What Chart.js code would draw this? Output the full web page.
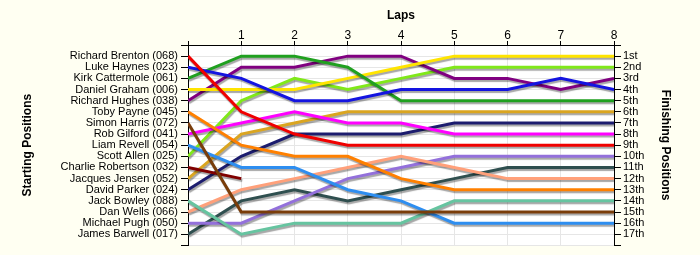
<!DOCTYPE html>
<html><head><meta charset="utf-8">
<script src="https://cdn.jsdelivr.net/npm/chart.js@4"></script>
<style>html,body{margin:0;padding:0;background:#fffff2;}canvas{display:block;}</style>
</head><body>
<canvas id="c" width="700" height="255"></canvas>
<script>
// ---- data ----
const laps = [0, 1, 2, 3, 4, 5, 6, 7, 8];
const lapTickLabels = ['', '1', '2', '3', '4', '5', '6', '7', '8'];
const drivers = [
  'Richard Brenton (068)', 'Luke Haynes (023)', 'Kirk Cattermole (061)', 'Daniel Graham (006)',
  'Richard Hughes (038)', 'Toby Payne (045)', 'Simon Harris (072)', 'Rob Gilford (041)',
  'Liam Revell (054)', 'Scott Allen (025)', 'Charlie Robertson (032)', 'Jacques Jensen (052)',
  'David Parker (024)', 'Jack Bowley (088)', 'Dan Wells (066)', 'Michael Pugh (050)', 'James Barwell (017)'
];
const finishLabels = ['1st','2nd','3rd','4th','5th','6th','7th','8th','9th','10th','11th','12th','13th','14th','15th','16th','17th'];

const brenton    = [1, 6, 8, 9, 9, 9, 9, 9, 9];
const haynes     = [2, 3, 5, 5, 4, 4, 4, 3, 4];
const cattermole = [3, 1, 1, 2, 5, 5, 5, 5, 5];
const graham     = [4, 4, 4, 3, 2, 1, 1, 1, 1];
const hughes     = [5, 2, 2, 1, 1, 3, 3, 4, 3];
const payne      = [6, 9, 10, 10, 12, 13, 13, 13, 13];
const harris     = [7, 15, 15, 15, 15, 15, 15, 15, 15];
const gilford    = [8, 7, 6, 7, 7, 8, 8, 8, 8];
const revell     = [9, 11, 11, 13, 14, 16, 16, 16, 16];
const allen      = [10, 5, 3, 4, 3, 2, 2, 2, 2];
const robertson  = [11, 12, null, null, null, null, null, null, null];
const jensen     = [12, 8, 7, 6, 6, 6, 6, 6, 6];
const parker     = [13, 10, 8, 8, 8, 7, 7, 7, 7];
const bowley     = [14, 17, 16, 16, 16, 14, 14, 14, 14];
const wells      = [15, 13, 12, 11, 10, 11, 12, 12, 12];
const pugh       = [16, 16, 14, 12, 11, 10, 10, 10, 10];
const barwell    = [17, 14, 13, 14, 13, 12, 11, 11, 11];

const series = [brenton, haynes, cattermole, graham, hughes, payne, harris, gilford, revell,
                allen, robertson, jensen, parker, bowley, wells, pugh, barwell];
const colors = ['#f00000', '#1414e0', '#20a020', '#ffe400', '#800080', '#ff8000', '#7a3d0a', '#ff00ff',
                '#2e8ef0', '#80e81a', '#800000', '#daa520', '#1c1c6e', '#66c4a0', '#ffa07a', '#9370db', '#2f4f4f'];

const FONT = 'Arial, "Liberation Sans", sans-serif';

const datasets = series.map((s, i) => ({
  label: drivers[i],
  data: s.map((v, j) => ({x: laps[j], y: v})),
  borderColor: colors[i],
  borderWidth: 3,
  pointRadius: 0,
  tension: 0,
  spanGaps: false,
  fill: false
}));

const bgPlugin = {
  id: 'bg',
  beforeDraw(chart) {
    const {ctx, chartArea: a} = chart;
    ctx.save();
    ctx.fillStyle = '#fffff2';
    ctx.fillRect(0, 0, chart.width, chart.height);
    ctx.fillStyle = '#ffffff';
    ctx.fillRect(a.left, a.top, a.right - a.left, a.bottom - a.top);
    ctx.restore();
  }
};
const shadowPlugin = {
  id: 'shadow',
  beforeDatasetsDraw(chart) {
    const ctx = chart.ctx;
    ctx.save();
    ctx.shadowColor = 'rgba(0,0,0,0.35)';
    ctx.shadowOffsetX = 1;
    ctx.shadowOffsetY = 2;
    ctx.shadowBlur = 1;
  },
  afterDatasetsDraw(chart) {
    chart.ctx.restore();
  }
};

new Chart(document.getElementById('c'), {
  type: 'line',
  data: { datasets },
  plugins: [bgPlugin, shadowPlugin],
  options: {
    responsive: false,
    animation: false,
    devicePixelRatio: 1,
    layout: { padding: { left: 0, right: 0, top: 0, bottom: 8 } },
    plugins: { legend: { display: false }, tooltip: { enabled: false } },
    scales: {
      x: {
        type: 'linear', position: 'top', min: 0, max: 8,
        ticks: { stepSize: 1, autoSkip: false, maxRotation: 0, padding: -2, color: '#000',
                 font: { family: FONT, size: 12 },
                 callback: (v) => lapTickLabels[v] !== undefined ? lapTickLabels[v] : '' },
        grid: { color: '#e6e6e6', tickColor: '#000', tickLength: 4, lineWidth: 1 },
        border: { color: '#000', width: 1 },
        title: { display: true, text: 'Laps', color: '#000',
                 font: { family: FONT, size: 12, weight: 'bold' }, padding: { top: 8, bottom: 0 } },
        afterFit: (s) => { s.height = 45; }
      },
      y: {
        type: 'linear', position: 'left', reverse: true, min: 0, max: 18,
        ticks: { stepSize: 1, autoSkip: false, maxRotation: 0, minRotation: 0, padding: 3, color: '#000',
                 font: { family: FONT, size: 11 },
                 callback: (v) => (v >= 1 && v <= drivers.length) ? drivers[v - 1] : '' },
        grid: { color: '#e6e6e6', tickColor: '#000', tickLength: 7, lineWidth: 1 },
        border: { color: '#000', width: 1 },
        title: { display: true, text: 'Starting Positions', color: '#000',
                 font: { family: FONT, size: 12, weight: 'bold' }, padding: { top: 20.5, bottom: 0 } },
        afterFit: (s) => { s.width = 188; }
      },
      y2: {
        type: 'linear', position: 'right', reverse: true, min: 0, max: 18,
        ticks: { stepSize: 1, autoSkip: false, maxRotation: 0, minRotation: 0, padding: 2, color: '#000',
                 font: { family: FONT, size: 11 },
                 callback: (v) => (v >= 1 && v <= finishLabels.length) ? finishLabels[v - 1] : '' },
        grid: { drawOnChartArea: false, tickColor: '#000', tickLength: 7, lineWidth: 1 },
        border: { color: '#000', width: 1 },
        title: { display: true, text: 'Finishing Positions', color: '#000',
                 font: { family: FONT, size: 12, weight: 'bold' }, padding: { top: 27, bottom: 0 } },
        afterFit: (s) => { s.width = 86; }
      }
    }
  }
});
</script>
</body></html>
